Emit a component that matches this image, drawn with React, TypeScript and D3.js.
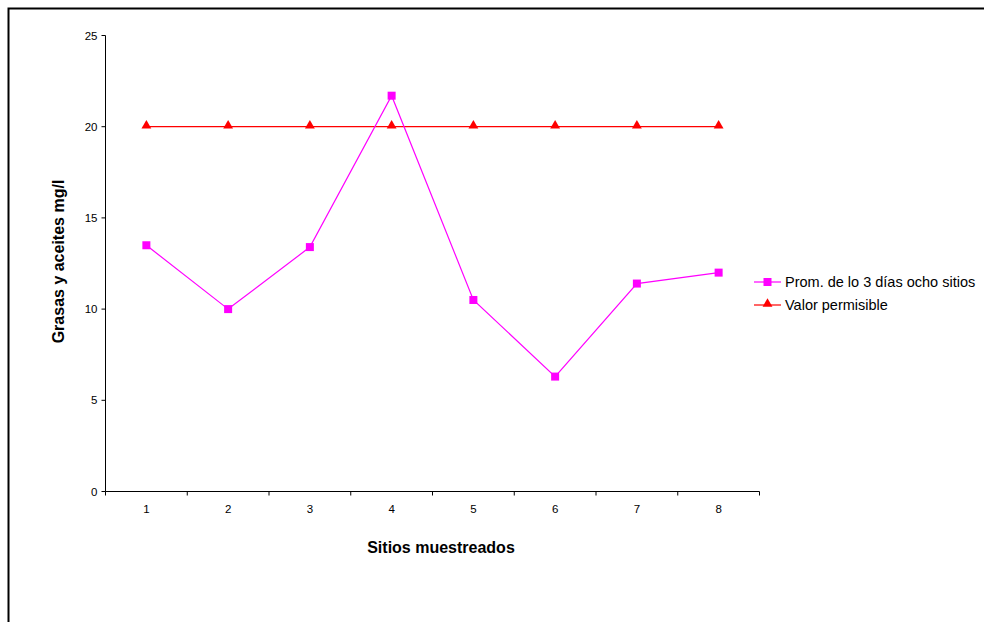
import React from "react";
import * as d3 from "d3";

const sites = ["1", "2", "3", "4", "5", "6", "7", "8"];
const promedio = [13.5, 10.0, 13.4, 21.7, 10.5, 6.3, 11.4, 12.0];
const permisible = [20, 20, 20, 20, 20, 20, 20, 20];
const yTicks = [0, 5, 10, 15, 20, 25];
const seriesNames = ["Prom. de lo 3 días ocho sitios", "Valor permisible"];

const W = 984;
const H = 622;
const left = 105.5;
const right = 759.5;
const top = 35.5;
const bottom = 491.5;
const font = "'Liberation Sans', Arial, sans-serif";
const pink = "#FF00FF";
const red = "#FF0000";

export default function App() {
  const x = d3.scaleBand<string>().domain(sites).range([left, right]).padding(0);
  const y = d3.scaleLinear().domain([0, 25]).range([bottom, top]);
  const cx = (s: string) => (x(s) as number) + x.bandwidth() / 2;

  const line = d3
    .line<number>()
    .x((_, i) => cx(sites[i]))
    .y((d) => y(d));

  const tri = d3.symbol().type(d3.symbolTriangle).size(42)();
  const boundaries = d3.range(sites.length + 1).map((i) => left + i * x.bandwidth());

  return (
    <svg
      width={W}
      height={H}
      style={{ position: "absolute", left: 0, top: 0, background: "#fff" }}
      fontFamily={font}
    >
      <rect x={0} y={0} width={W} height={H} fill="#fff" />
      {/* chart frame */}
      <rect x={8.5} y={8.5} width={W + 20} height={H + 20} fill="none" stroke="#000" strokeWidth={2} />

      {/* y axis */}
      <line x1={left} x2={left} y1={top} y2={bottom} stroke="#000" strokeWidth={1} />
      {yTicks.map((t) => (
        <g key={t}>
          <line x1={left - 4} x2={left} y1={y(t)} y2={y(t)} stroke="#000" />
          <text x={left - 8} y={y(t)} dy="0.35em" textAnchor="end" fontSize={11.5}>
            {t}
          </text>
        </g>
      ))}

      {/* x axis */}
      <line x1={left} x2={right} y1={bottom} y2={bottom} stroke="#000" strokeWidth={1} />
      {boundaries.map((b, i) => (
        <line key={i} x1={b} x2={b} y1={bottom} y2={bottom + 4} stroke="#000" />
      ))}
      {sites.map((s) => (
        <text key={s} x={cx(s)} y={bottom + 17} dy="0.35em" textAnchor="middle" fontSize={11.5}>
          {s}
        </text>
      ))}

      {/* series: permissible value */}
      <path d={line(permisible) || ""} fill="none" stroke={red} strokeWidth={1.2} />
      {permisible.map((v, i) => (
        <path key={i} d={tri || ""} transform={`translate(${cx(sites[i])},${y(v) - 1})`} fill={red} />
      ))}

      {/* series: average */}
      <path d={line(promedio) || ""} fill="none" stroke={pink} strokeWidth={1.2} />
      {promedio.map((v, i) => (
        <rect key={i} x={cx(sites[i]) - 4} y={y(v) - 4} width={8} height={8} fill={pink} />
      ))}

      {/* axis titles */}
      <text x={441} y={553} textAnchor="middle" fontSize={16} fontWeight="bold">
        Sitios muestreados
      </text>
      <text
        transform={`translate(64,${(top + bottom) / 2 - 2}) rotate(-90)`}
        textAnchor="middle"
        fontSize={16}
        fontWeight="bold"
      >
        Grasas y aceites mg/l
      </text>

      {/* legend */}
      <g>
        <line x1={754} x2={781} y1={282} y2={282} stroke={pink} strokeWidth={1.2} />
        <rect x={763.5} y={278} width={8} height={8} fill={pink} />
        <text x={785} y={282} dy="0.35em" fontSize={14.5}>
          {seriesNames[0]}
        </text>
        <line x1={754} x2={781} y1={305} y2={305} stroke={red} strokeWidth={1.2} />
        <path d={tri || ""} transform={`translate(767.5,304)`} fill={red} />
        <text x={785} y={305} dy="0.35em" fontSize={14.5}>
          {seriesNames[1]}
        </text>
      </g>
    </svg>
  );
}
